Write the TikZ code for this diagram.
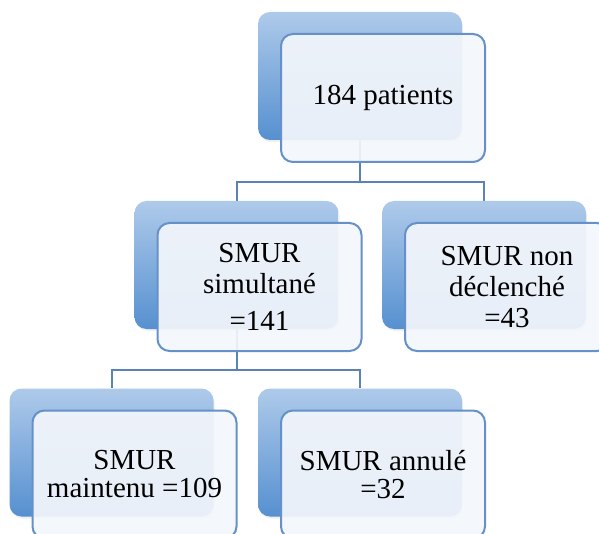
\documentclass[tikz,border=0pt]{standalone}
\usepackage{fontspec}
\setmainfont{Liberation Serif}
\usetikzlibrary{backgrounds,shadows}
\definecolor{boxTop}{HTML}{AECAEA}
\definecolor{boxBot}{HTML}{5690D0}
\definecolor{boxFace}{HTML}{F3F6FB}
\definecolor{boxLine}{HTML}{6591C8}
\definecolor{linkBlue}{HTML}{5A82B3}

\tikzset{
  backbox/.style={rounded corners=12pt,minimum width=204pt,minimum height=128pt,
    top color=boxTop,bottom color=boxBot,draw=none,
    drop shadow={opacity=0.12,shadow xshift=1pt,shadow yshift=-2pt}},
  frontbox/.style={rounded corners=12pt,minimum width=204pt,minimum height=128pt,
    fill=boxFace,fill opacity=0.93,text opacity=1,draw=boxLine,line width=2pt,
    align=center,font=\fontsize{29}{31}\selectfont},
  link/.style={draw=linkBlue,line width=2pt}
}

\begin{document}
\begin{tikzpicture}[x=1pt,y=-1pt]
  \useasboundingbox (0,0) rectangle (599,534);
  \clip (0,0) rectangle (599,534);
  % niveau 1
  \node[backbox] (top) at (360,76) {};
  \node[frontbox] (topF) at ([shift={(23,22)}]top.center) {\raisebox{-3pt}{184 patients}};
  % niveau 2
  \node[backbox] (simul) at (236.5,265) {};
  \node[frontbox] (simulF) at ([shift={(23,22)}]simul.center) {SMUR\\simultané\\[6pt]=141};
  \node[backbox] (nondecl) at (484,265) {};
  \node[frontbox] (nondeclF) at ([shift={(23,22)}]nondecl.center) {SMUR non\\déclenché\\=43};
  % niveau 3
  \node[backbox] (maint) at (111.5,452.5) {};
  \node[frontbox,font=\fontsize{29}{28}\selectfont] (maintF) at ([shift={(23,22)}]maint.center) {SMUR\\maintenu =109};
  \node[backbox] (annul) at (360,452.5) {};
  \node[frontbox,font=\fontsize{29}{28}\selectfont] (annulF) at ([shift={(23,22)}]annul.center) {SMUR annulé\\=32};
  % liaisons derrière les cadres
  \begin{scope}[on background layer]
    \draw[link] (top.south) -- ++(0,42) -| (simul.north);
    \draw[link] (top.south) -- ++(0,42) -| (nondecl.north);
    \draw[link] (simul.south) -- ++(0,41) -| (maint.north);
    \draw[link] (simul.south) -- ++(0,41) -| (annul.north);
  \end{scope}
\end{tikzpicture}
\end{document}
